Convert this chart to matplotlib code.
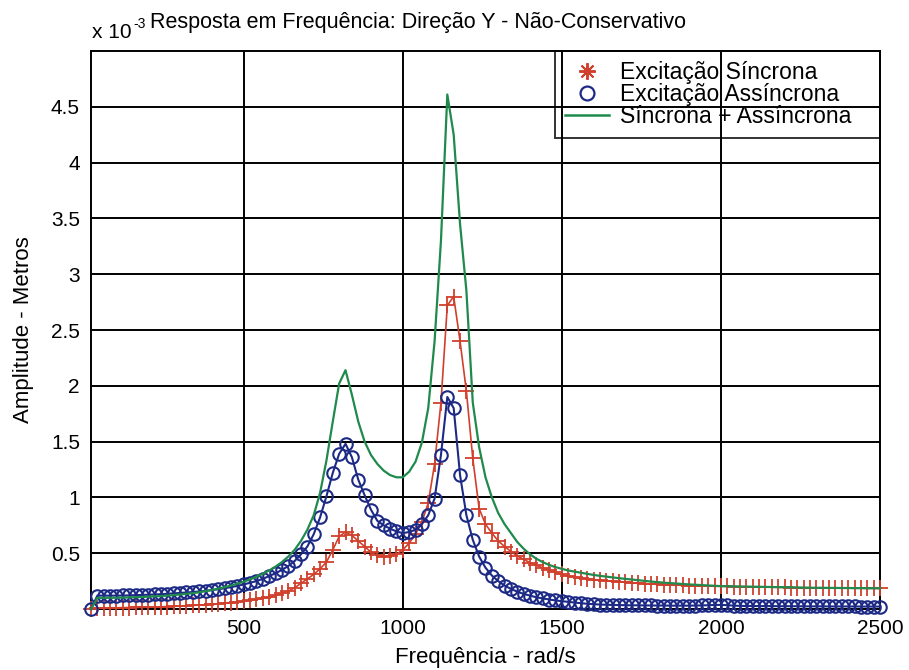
import numpy as np
import matplotlib
matplotlib.use('Agg')
import matplotlib.pyplot as plt
from matplotlib.lines import Line2D

plt.rcParams['font.family'] = ['Liberation Sans', 'DejaVu Sans']

# frequency grid (rad/s), one sample every 20 rad/s
freq = np.arange(20, 2501, 20)

# amplitudes, in units of 1e-3 m
sincrona = [
    0.0, 0.01, 0.01, 0.01, 0.011, 0.012, 0.013, 0.014, 0.015, 0.016,
    0.018, 0.02, 0.022, 0.024, 0.026, 0.029, 0.032, 0.035, 0.039, 0.043,
    0.047, 0.052, 0.058, 0.064, 0.07, 0.078, 0.086, 0.096, 0.108, 0.122,
    0.14, 0.16, 0.19, 0.23, 0.27, 0.31, 0.36, 0.42, 0.53, 0.65,
    0.69, 0.66, 0.61, 0.56, 0.51, 0.48, 0.47, 0.475, 0.49, 0.53,
    0.59, 0.67, 0.78, 0.95, 1.30, 1.85, 2.72, 2.80, 2.40, 1.95,
    1.35, 0.90, 0.76, 0.68, 0.61, 0.56, 0.515, 0.475, 0.445, 0.415,
    0.39, 0.37, 0.35, 0.33, 0.31, 0.295, 0.285, 0.276, 0.268, 0.262,
    0.257, 0.252, 0.248, 0.244, 0.24, 0.236, 0.232, 0.228, 0.224, 0.221,
    0.218, 0.216, 0.214, 0.212, 0.21, 0.208, 0.206, 0.205, 0.204, 0.203,
    0.202, 0.201, 0.2, 0.199, 0.198, 0.197, 0.196, 0.195, 0.194, 0.193,
    0.192, 0.191, 0.19, 0.19, 0.189, 0.189, 0.188, 0.188, 0.187, 0.187,
    0.186, 0.186, 0.185, 0.185, 0.185]

assincrona = [
    0.0, 0.12, 0.12, 0.12, 0.12, 0.121, 0.122, 0.124, 0.126, 0.128,
    0.13, 0.133, 0.136, 0.14, 0.144, 0.148, 0.152, 0.157, 0.163, 0.17,
    0.177, 0.186, 0.196, 0.207, 0.22, 0.235, 0.25, 0.27, 0.295, 0.32,
    0.35, 0.385, 0.43, 0.49, 0.56, 0.67, 0.82, 1.01, 1.22, 1.39,
    1.48, 1.36, 1.16, 1.02, 0.89, 0.79, 0.75, 0.72, 0.695, 0.68,
    0.69, 0.71, 0.76, 0.84, 0.99, 1.38, 1.90, 1.80, 1.20, 0.84,
    0.62, 0.47, 0.37, 0.30, 0.25, 0.21, 0.18, 0.155, 0.135, 0.12,
    0.105, 0.095, 0.085, 0.077, 0.07, 0.064, 0.058, 0.052, 0.047, 0.043,
    0.04, 0.038, 0.036, 0.035, 0.034, 0.033, 0.033, 0.032, 0.032, 0.031,
    0.031, 0.03, 0.03, 0.03, 0.03, 0.031, 0.032, 0.034, 0.036, 0.037,
    0.034, 0.03, 0.028, 0.027, 0.027, 0.026, 0.026, 0.026, 0.025, 0.025,
    0.025, 0.025, 0.024, 0.024, 0.024, 0.024, 0.023, 0.023, 0.023, 0.023,
    0.023, 0.022, 0.022, 0.022, 0.022]

soma = [
    0.0, 0.10, 0.10, 0.10, 0.101, 0.102, 0.104, 0.106, 0.108, 0.11,
    0.113, 0.116, 0.12, 0.125, 0.13, 0.136, 0.142, 0.15, 0.16, 0.17,
    0.182, 0.196, 0.21, 0.227, 0.245, 0.265, 0.29, 0.315, 0.345, 0.38,
    0.42, 0.47, 0.53, 0.61, 0.71, 0.84, 1.04, 1.33, 1.68, 2.02,
    2.14, 1.92, 1.68, 1.50, 1.38, 1.30, 1.24, 1.20, 1.18, 1.18,
    1.23, 1.32, 1.49, 1.80, 2.40, 3.30, 4.61, 4.25, 3.45, 2.85,
    1.85, 1.45, 1.18, 1.00, 0.86, 0.76, 0.68, 0.60, 0.54, 0.49,
    0.45, 0.42, 0.395, 0.375, 0.36, 0.345, 0.335, 0.325, 0.315, 0.305,
    0.297, 0.29, 0.283, 0.276, 0.27, 0.264, 0.258, 0.252, 0.246, 0.241,
    0.236, 0.232, 0.228, 0.224, 0.22, 0.217, 0.214, 0.211, 0.208, 0.205,
    0.204, 0.203, 0.202, 0.201, 0.2, 0.199, 0.198, 0.197, 0.196, 0.195,
    0.194, 0.193, 0.192, 0.191, 0.19, 0.19, 0.189, 0.189, 0.188, 0.188,
    0.187, 0.187, 0.186, 0.186, 0.185]

xticks = [500, 1000, 1500, 2000, 2500]
yticks = [0.5, 1, 1.5, 2, 2.5, 3, 3.5, 4, 4.5]
ytick_labels = ['0.5', '1', '1.5', '2', '2.5', '3', '3.5', '4', '4.5']

red = '#d0402c'
blue = '#1c2a86'
green = '#1f8a4c'

fig = plt.figure(figsize=(9.09, 6.70), dpi=100)
ax = fig.add_axes([91/909, 61/670, 789/909, 558/670])

ax.plot(freq, sincrona, color=red, lw=1.2, marker='+', ms=11, mew=1.3, clip_on=False, zorder=3)
ax.plot(freq, assincrona, color=blue, lw=1.5, marker='o', ms=9, mfc='none', mew=1.5, clip_on=False, zorder=4)
ax.plot(freq, soma, color=green, lw=1.6, clip_on=False, zorder=5)

ax.set_xlim(20, 2500)
ax.set_ylim(0, 5)
ax.set_xticks(xticks)
ax.set_yticks(yticks)
ax.set_yticklabels(ytick_labels)
ax.tick_params(axis='x', length=0, pad=7, labelsize=15)
ax.tick_params(axis='y', length=0, pad=8, labelsize=15)
ax.grid(True, color='black', lw=1.4)
ax.set_axisbelow(True)
for s in ax.spines.values():
    s.set_color('black')
    s.set_linewidth(1.4)

ax.set_xlabel('Frequência - rad/s', fontsize=16, labelpad=7)
ax.set_ylabel('Amplitude - Metros', fontsize=16, labelpad=12)

# exponent and title at the top left, as in the original printout
fig.text(92/909, 1 - 38/670, 'x 10', fontsize=15, va='baseline', ha='left')
fig.text(133/909, 1 - 28/670, '-3', fontsize=10, va='baseline', ha='left')
fig.text(150/909, 1 - 28/670, 'Resposta em Frequência: Direção Y - Não-Conservativo',
         fontsize=15.5, va='baseline', ha='left')

handles = [
    Line2D([], [], color=red, marker=(8, 2, 0), ms=12, mew=1.4, ls='none'),
    Line2D([], [], color=blue, marker='o', ms=10, mfc='none', mew=1.6, ls='none'),
    Line2D([], [], color=green, lw=1.8),
]
labels = ['Excitação Síncrona', 'Excitação Assíncrona', 'Síncrona + Assíncrona']
leg = ax.legend(handles, labels, loc='upper left', bbox_to_anchor=(0.588, 0.844, 0.412, 0.156),
                mode='expand', borderaxespad=0, fontsize=16.5, frameon=True, fancybox=False,
                handlelength=1.9, handletextpad=0.5, labelspacing=-0.05, borderpad=0.45)
leg.get_frame().set_facecolor('none')
leg.get_frame().set_edgecolor('black')
leg.get_frame().set_linewidth(1.4)

fig.savefig('out.png', dpi=100, facecolor='white')
